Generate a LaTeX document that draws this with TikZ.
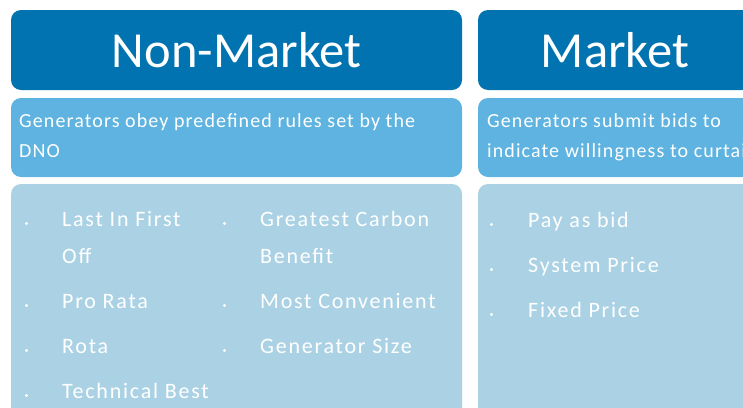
\documentclass[tikz,border=0pt]{standalone}
\usepackage{fontspec}
\setmainfont{Carlito}
\definecolor{hdrblue}{RGB}{0,115,176}
\definecolor{midblue}{RGB}{94,179,224}
\definecolor{paleblue}{RGB}{171,210,228}
\begin{document}
\begin{tikzpicture}[x=1pt,y=-1pt,
  panel/.style={rounded corners=10pt},
  hdrpanel/.style={panel,fill=hdrblue},
  descpanel/.style={panel,fill=midblue},
  listpanel/.style={panel,fill=paleblue},
  hdrtext/.style={anchor=base,inner sep=0pt,text=white,font=\fontsize{50.5}{60}\selectfont},
  desctext/.style={anchor=base west,inner sep=0pt,text=white,font=\fontsize{20}{24}\selectfont\addfontfeatures{LetterSpace=5.5}},
  itemtext/.style={anchor=base west,inner sep=0pt,text=white,font=\fontsize{22}{26}\selectfont\addfontfeatures{LetterSpace=8}},
  dot/.style={circle,fill=white,inner sep=0pt,minimum size=3.4pt}
]
\useasboundingbox (0,0) rectangle (743,407);
\clip (0,0) rectangle (743,407);

% column panels
\fill[hdrpanel]  (11,10)  rectangle (462,90);
\fill[hdrpanel]  (478,10) rectangle (752,90);
\fill[descpanel] (11,98)  rectangle (462,177);
\fill[descpanel] (478,98) rectangle (752,177);
\fill[listpanel] (11,184) rectangle (462,440);
\fill[listpanel] (478,184) rectangle (752,440);

% headings
\node[hdrtext] (nmhead) at (236.5,67) {Non-Market};
\node[hdrtext] (mkhead) at (615,67) {Market};

% descriptions
\node[desctext] (nmdesc1) at (19,127) {Generators obey predefined rules set by the};
\node[desctext] (nmdesc2) at (19,157) {DNO};
\node[desctext] (mkdesc1) at (487,127) {Generators submit bids to};
\node[desctext] (mkdesc2) at (487,157) {indicate willingness to curtail};

% non-market methods, first column
\node[dot] (b1) at (26.5,223.5) {};
\node[itemtext] (i1a) at (62,226) {Last In First};
\node[itemtext] (i1b) at (62,263) {Off};
\node[dot] (b2) at (26.5,305.5) {};
\node[itemtext] (i2) at (62,308) {Pro Rata};
\node[dot] (b3) at (26.5,350.5) {};
\node[itemtext] (i3) at (62,353) {Rota};
\node[dot] (b4) at (26.5,395.5) {};
\node[itemtext] (i4) at (62,398) {Technical Best};

% non-market methods, second column
\node[dot] (b5) at (224.5,223.5) {};
\node[itemtext] (i5a) at (260,226) {Greatest Carbon};
\node[itemtext] (i5b) at (260,263) {Benefit};
\node[dot] (b6) at (224.5,305.5) {};
\node[itemtext] (i6) at (260,308) {Most Convenient};
\node[dot] (b7) at (224.5,350.5) {};
\node[itemtext] (i7) at (260,353) {Generator Size};

% market methods
\node[dot] (b8) at (491.5,224.5) {};
\node[itemtext] (i8) at (528,227) {Pay as bid};
\node[dot] (b9) at (491.5,269.5) {};
\node[itemtext] (i9) at (528,272) {System Price};
\node[dot] (b10) at (491.5,314.5) {};
\node[itemtext] (i10) at (528,317) {Fixed Price};
\end{tikzpicture}
\end{document}
